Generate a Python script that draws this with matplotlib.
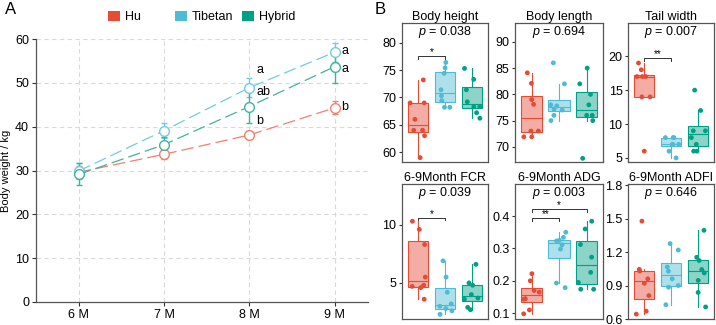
import numpy as np
import matplotlib
matplotlib.use("Agg")
import matplotlib.pyplot as plt
from matplotlib.patches import Patch

plt.rcParams['font.family'] = ['Liberation Sans', 'DejaVu Sans']
plt.rcParams['mathtext.fontset'] = 'custom'
plt.rcParams['mathtext.it'] = 'Liberation Sans:italic'
plt.rcParams['mathtext.rm'] = 'Liberation Sans'

# ---------------- data ----------------
groups = ["Hu", "Tibetan", "Hybrid"]
colors = ["#E64B35", "#4DBBD5", "#00A087"]

months = ["6 M", "7 M", "8 M", "9 M"]
bw_hu = [29.6, 33.7, 38.1, 44.3]
bw_hu_err = [1.4, 1.0, 1.0, 1.45]
bw_tib = [29.9, 39.1, 48.9, 57.0]
bw_tib_err = [1.9, 1.7, 2.1, 2.2]
bw_hyb = [29.1, 35.9, 44.6, 53.7]
bw_hyb_err = [2.5, 1.8, 3.7, 3.8]

letters_8m = ["b", "a", "ab"]
letters_8m_y = [41.2, 53.0, 47.8]
letters_9m = ["b", "a", "a"]
letters_9m_y = [44.4, 57.3, 53.2]

panel_titles = ["Body height", "Body length", "Tail width",
                "6-9Month FCR", "6-9Month ADG", "6-9Month ADFI"]
p_values = ["0.038", "0.694", "0.007", "0.039", "0.003", "0.646"]

body_height = [[59, 63, 64, 64, 66, 69, 69, 73.2],
               [68.2, 68.2, 69.4, 70.3, 71.4, 74.4, 75.4, 76.4],
               [66.2, 67.2, 68.3, 68.3, 69.2, 71.4, 73.3, 75.3]]
body_length = [[71.9, 71.9, 73, 73, 78.1, 79, 82.1, 84.1],
               [75, 76, 77, 77.2, 77.8, 78, 82, 86],
               [67.8, 75, 76, 76, 78, 80, 82, 85]]
tail_width = [[6, 14, 14, 17, 17, 17, 18, 19],
              [5, 6, 7, 7, 7, 8, 8, 8],
              [6, 6, 7, 8, 9, 9, 12, 15]]
fcr = [[3.6, 4.6, 4.7, 4.8, 5.5, 8.3, 9.6, 10.3],
       [2.3, 2.6, 2.8, 3.0, 3.2, 4.2, 5.5, 6.9],
       [2.7, 2.9, 3.6, 3.7, 4.0, 4.8, 5.0, 6.6]]
adg = [[0.098, 0.11, 0.143, 0.145, 0.165, 0.17, 0.2, 0.222],
       [0.179, 0.193, 0.298, 0.311, 0.323, 0.325, 0.334, 0.35],
       [0.174, 0.174, 0.195, 0.226, 0.273, 0.312, 0.36, 0.384]]
adfi = [[0.644, 0.67, 0.81, 0.92, 0.96, 1.03, 1.045, 1.477],
        [0.728, 0.885, 0.9, 0.96, 1.028, 1.066, 1.218, 1.276],
        [0.708, 0.838, 0.946, 1.013, 1.043, 1.124, 1.153, 1.395]]
panel_data = [body_height, body_length, tail_width, fcr, adg, adfi]

panel_ylims = [(58.2, 83.6), (67.1, 93.6), (4.4, 24.9),
               (1.9, 13.5), (0.082, 0.499), (0.6, 1.81)]
panel_yticks = [[60, 65, 70, 75, 80], [70, 75, 80, 85, 90], [5, 10, 15, 20],
                [5, 10], [0.1, 0.2, 0.3, 0.4], [0.6, 0.9, 1.2, 1.5, 1.8]]
panel_yfmt = ["{:.0f}", "{:.0f}", "{:.0f}", "{:.0f}", "{:.1f}", "{:.1f}"]

# significance brackets
sig_panel = [0, 2, 3, 4, 4]
sig_g1 = [1, 1, 1, 1, 1]
sig_g2 = [2, 2, 2, 2, 3]
sig_y = [77.6, 19.7, 10.6, 0.393, 0.421]
sig_label = ["*", "**", "*", "**", "*"]

# ---------------- figure ----------------
W, H = 716, 325
fig = plt.figure(figsize=(W / 100, H / 100), dpi=100)

def box_rect(x0, x1, y0, y1):
    return [x0 / W, 1 - y1 / H, (x1 - x0) / W, (y1 - y0) / H]

frame_col = "#555555"
tick_col = "#333333"

# ---------- panel A ----------
axA = fig.add_axes(box_rect(36, 368, 39, 302))
xpos = np.arange(len(months))
series = [(bw_hu, bw_hu_err), (bw_tib, bw_tib_err), (bw_hyb, bw_hyb_err)]
line_cols = ["#F08070", "#72CBE0", "#40B39D"]
for (vals, errs), lc in zip(series, line_cols):
    axA.errorbar(xpos, vals, yerr=errs, color=lc, ecolor=lc, elinewidth=1.0,
                 capsize=2.5, capthick=1.0, linestyle=(0, (10, 4)), linewidth=0.9,
                 marker='o', markersize=7, markerfacecolor='white',
                 markeredgecolor=lc, markeredgewidth=1.0, zorder=3)
for lab, y in zip(letters_8m, letters_8m_y):
    axA.text(xpos[2] + 0.085, y, lab, fontsize=9, ha='left', va='center')
for lab, y in zip(letters_9m, letters_9m_y):
    axA.text(xpos[3] + 0.08, y, lab, fontsize=9, ha='left', va='center')

axA.set_xlim(-0.5, 3.39)
axA.set_ylim(0, 60)
axA.set_yticks([0, 10, 20, 30, 40, 50, 60])
axA.set_xticks(xpos)
axA.set_xticklabels(months)
axA.grid(True, color="#D9D9D9", linestyle=(0, (4, 3)), linewidth=0.8)
axA.set_axisbelow(True)
for s in ["top", "right"]:
    axA.spines[s].set_visible(False)
for s in ["left", "bottom"]:
    axA.spines[s].set_color(frame_col)
    axA.spines[s].set_linewidth(0.9)
axA.tick_params(axis='both', labelsize=9, length=3, width=0.8, color=tick_col, pad=2)
axA.set_ylabel("Body weight / kg", fontsize=8, labelpad=3)

# legend
leg_x = [114, 181, 248]
for g, c, lx in zip(groups, colors, leg_x):
    fig.legend(handles=[Patch(facecolor=c, edgecolor='none')], labels=[g],
               loc='center left', bbox_to_anchor=(lx / W - 0.008, 1 - 17 / H),
               frameon=False, fontsize=9, handlelength=0.9, handleheight=0.9,
               handletextpad=0.4, borderpad=0, borderaxespad=0)

fig.text(5 / W, 1 - 10 / H, "A", fontsize=12, ha='left', va='center')
fig.text(375 / W, 1 - 10 / H, "B", fontsize=12, ha='left', va='center')

# ---------- panel B ----------
cols_px = [(402, 488), (515, 603), (628, 714)]
rows_px = [(23, 162), (184, 319)]
rng = np.random.default_rng(7)
for i, data in enumerate(panel_data):
    r, cidx = divmod(i, 3)
    x0, x1 = cols_px[cidx]
    y0, y1 = rows_px[r]
    ax = fig.add_axes(box_rect(x0, x1, y0, y1))
    bp = ax.boxplot(data, positions=[1, 2, 3], widths=0.77, patch_artist=True,
                    showcaps=False, showfliers=False, whis=1.5, zorder=2)
    for k, c in enumerate(colors):
        bp['boxes'][k].set_facecolor(matplotlib.colors.to_rgba(c, 0.45))
        bp['boxes'][k].set_edgecolor(c)
        bp['boxes'][k].set_linewidth(0.8)
        bp['medians'][k].set_color(c)
        bp['medians'][k].set_linewidth(0.8)
        for w in bp['whiskers'][2 * k:2 * k + 2]:
            w.set_color(c)
            w.set_linewidth(0.8)
        vals = np.asarray(data[k])
        jit = rng.uniform(-0.3, 0.3, size=len(vals))
        ax.scatter(np.full(len(vals), k + 1) + jit, vals, s=12, color=c,
                   edgecolors='none', zorder=3)
    ax.set_xlim(0.4, 3.6)
    ax.set_ylim(*panel_ylims[i])
    ax.set_yticks(panel_yticks[i])
    ax.set_yticklabels([panel_yfmt[i].format(v) for v in panel_yticks[i]])
    ax.set_xticks([])
    for s in ax.spines.values():
        s.set_color(frame_col)
        s.set_linewidth(0.9)
    ax.tick_params(axis='y', labelsize=9, length=2.5, width=0.8, color=tick_col, pad=1.5)
    ax.set_title(panel_titles[i], fontsize=9, pad=2.5)
    ax.text(0.5, 1 - 9 / (y1 - y0), "$p$ = " + p_values[i], transform=ax.transAxes,
            ha='center', va='center', fontsize=9)
    for pi, g1, g2, sy, sl in zip(sig_panel, sig_g1, sig_g2, sig_y, sig_label):
        if pi != i:
            continue
        lo, hi = panel_ylims[i]
        h = (hi - lo) * 0.02
        ax.plot([g1, g1, g2, g2], [sy - h, sy, sy, sy - h], color="#333333",
                linewidth=0.7, zorder=4)
        ax.text((g1 + g2) / 2, sy - h * 0.4, sl, ha='center', va='bottom', fontsize=7)

fig.savefig("out.png", dpi=100)
